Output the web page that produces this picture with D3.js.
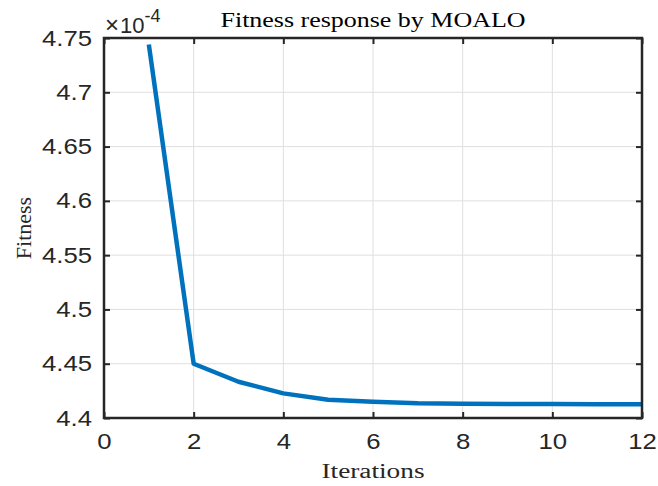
<!DOCTYPE html>
<html>
<head>
<meta charset="utf-8">
<script src="https://cdn.jsdelivr.net/npm/d3@7"></script>
<style>
  html, body { margin: 0; padding: 0; background: #fff; }
  svg { display: block; }
</style>
</head>
<body>
<svg id="chart" width="658" height="486"></svg>
<script>
// Fitness (in units of 1e-4) per iteration
const iterations = [1, 2, 3, 4, 5, 6, 7, 8, 9, 10, 11, 12];
const fitness = [4.744, 4.450, 4.4334, 4.4227, 4.4168, 4.4150, 4.4136, 4.4132, 4.4130, 4.4128, 4.4127, 4.4127];
const xTicks = [0, 2, 4, 6, 8, 10, 12];
const yTicks = [4.4, 4.45, 4.5, 4.55, 4.6, 4.65, 4.7, 4.75];
const yTickLabels = ["4.4", "4.45", "4.5", "4.55", "4.6", "4.65", "4.7", "4.75"];
const titleText = "Fitness response by MOALO";
const xLabelText = "Iterations";
const yLabelText = "Fitness";

const svg = d3.select("#chart");
const plotLeft = 104, plotRight = 642, plotTop = 38, plotBottom = 418;
const axisColor = "#262626";
const sans = "'Liberation Sans', Arial, sans-serif";
const serif = "'Liberation Serif', 'Times New Roman', serif";
const stretch = 1.17; // horizontal widening of glyphs

const x = d3.scaleLinear().domain([0, 12]).range([plotLeft, plotRight]);
const y = d3.scaleLinear().domain([4.4, 4.75]).range([plotBottom, plotTop]);

// grid
const grid = svg.append("g");
grid.selectAll("line.gx").data(xTicks.slice(1, -1)).join("line")
  .attr("x1", d => x(d)).attr("x2", d => x(d))
  .attr("y1", plotTop).attr("y2", plotBottom)
  .attr("stroke", "#dfdfdf").attr("stroke-width", 1);
grid.selectAll("line.gy").data(yTicks.slice(1, -1)).join("line")
  .attr("x1", plotLeft).attr("x2", plotRight)
  .attr("y1", d => y(d)).attr("y2", d => y(d))
  .attr("stroke", "#dfdfdf").attr("stroke-width", 1);

// data line
const line = d3.line().x((d, i) => x(iterations[i])).y(d => y(d));
svg.append("defs").append("clipPath").attr("id", "plotclip")
  .append("rect").attr("x", plotLeft).attr("y", plotTop - 6)
  .attr("width", plotRight - plotLeft).attr("height", plotBottom - plotTop + 6);
svg.append("path")
  .datum(fitness)
  .attr("d", line)
  .attr("fill", "none")
  .attr("stroke", "#0072BD")
  .attr("stroke-width", 4.5)
  .attr("stroke-linejoin", "round")
  .attr("clip-path", "url(#plotclip)");

// axes
function styleAxis(g) {
  g.select(".domain").remove();
  g.selectAll(".tick line").attr("stroke", axisColor).attr("stroke-width", 2);
  g.selectAll(".tick text")
    .attr("fill", axisColor)
    .attr("font-family", sans)
    .attr("font-size", "22px");
}
const xAxis = svg.append("g").attr("transform", `translate(0,${plotBottom})`)
  .call(d3.axisBottom(x).tickValues(xTicks).tickSize(-6).tickPadding(15).tickFormat(d3.format("d")));
styleAxis(xAxis);
const xAxisTop = svg.append("g").attr("transform", `translate(0,${plotTop})`)
  .call(d3.axisTop(x).tickValues(xTicks).tickSize(-6).tickFormat(""));
styleAxis(xAxisTop);
const yAxis = svg.append("g").attr("transform", `translate(${plotLeft},0)`)
  .call(d3.axisLeft(y).tickValues(yTicks).tickSize(-6).tickPadding(12)
    .tickFormat((d, i) => yTickLabels[i]));
styleAxis(yAxis);
const yAxisRight = svg.append("g").attr("transform", `translate(${plotRight},0)`)
  .call(d3.axisRight(y).tickValues(yTicks).tickSize(-6).tickFormat(""));
styleAxis(yAxisRight);

// widen tick labels
svg.selectAll(".tick text").each(function () {
  const w = this.getComputedTextLength();
  if (w > 0) d3.select(this).attr("textLength", w * stretch).attr("lengthAdjust", "spacingAndGlyphs");
});

// box
svg.append("rect")
  .attr("x", plotLeft).attr("y", plotTop)
  .attr("width", plotRight - plotLeft).attr("height", plotBottom - plotTop)
  .attr("fill", "none").attr("stroke", axisColor).attr("stroke-width", 2.5);

// exponent
const expo = svg.append("text")
  .attr("x", 105).attr("y", 33)
  .attr("font-family", sans).attr("font-size", "22px").attr("fill", axisColor);
expo.append("tspan").text("\u00d7").attr("font-size", "24px");
expo.append("tspan").text("10").attr("dx", 1);
expo.append("tspan").attr("dy", -11).attr("font-size", "18px").text("-4");

// title
svg.append("text")
  .attr("x", (plotLeft + plotRight) / 2).attr("y", 27)
  .attr("text-anchor", "middle")
  .attr("font-family", serif).attr("font-size", "21px").attr("fill", "#000")
  .attr("textLength", 305).attr("lengthAdjust", "spacingAndGlyphs")
  .text(titleText);

// axis labels
svg.append("text")
  .attr("x", (plotLeft + plotRight) / 2).attr("y", 478)
  .attr("text-anchor", "middle")
  .attr("font-family", serif).attr("font-size", "20px").attr("fill", axisColor)
  .attr("textLength", 103).attr("lengthAdjust", "spacingAndGlyphs")
  .text(xLabelText);
svg.append("text")
  .attr("transform", `translate(31,${(plotTop + plotBottom) / 2}) rotate(-90)`)
  .attr("text-anchor", "middle")
  .attr("font-family", serif).attr("font-size", "22px").attr("fill", axisColor)
  .text(yLabelText);
</script>
</body>
</html>
